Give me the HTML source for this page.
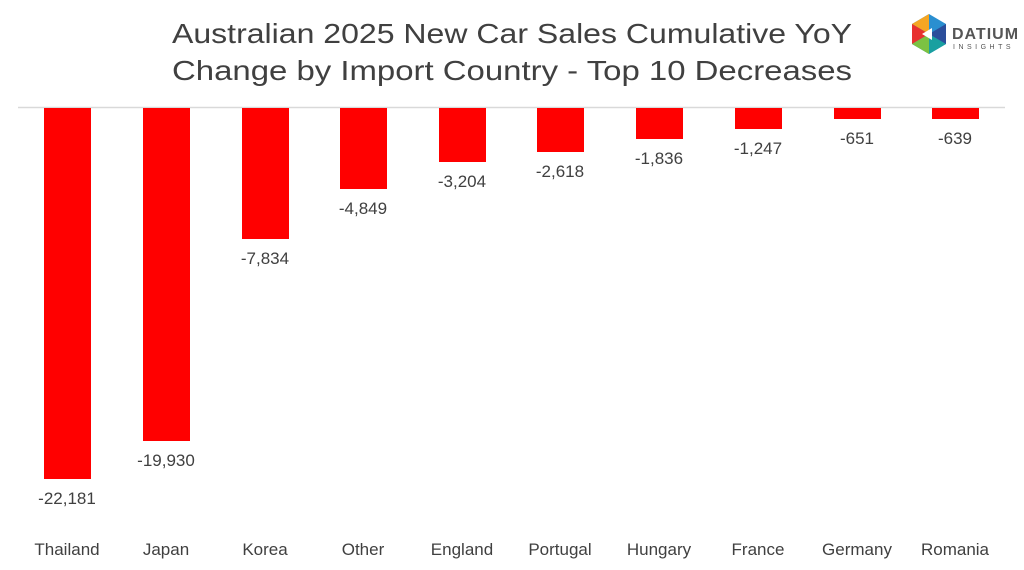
<!DOCTYPE html>
<html><head><style>
body{margin:0;background:#fff;}
svg{display:block;font-family:"Liberation Sans",sans-serif;}
</style></head><body>
<svg width="1024" height="570" viewBox="0 0 1024 570">
<text x="512" y="43" text-anchor="middle" font-size="28" fill="#404040" textLength="680" lengthAdjust="spacingAndGlyphs">Australian 2025 New Car Sales Cumulative YoY</text>
<text x="512" y="80" text-anchor="middle" font-size="28" fill="#404040" textLength="680" lengthAdjust="spacingAndGlyphs">Change by Import Country - Top 10 Decreases</text>
<!-- logo -->
<g transform="translate(912,14)">
<polygon points="17,0 34,10 34,30 17,40 0,30 0,10" fill="#2a8fd0"/>
<polygon points="0,10 17,0 17,20" fill="#f5a623"/>
<polygon points="0,10 17,20 0,30" fill="#e8312f"/>
<polygon points="0,30 17,20 17,40" fill="#7cc242"/>
<polygon points="17,40 17,20 34,30" fill="#1aa0a0"/>
<polygon points="34,30 17,20 34,10" fill="#2b4e9b"/>
<polygon points="10,20 20,14 20,26" fill="#fff"/>
<text x="40" y="25" font-size="16" font-weight="bold" fill="#555" letter-spacing="1">DATIUM</text>
<text x="41" y="35" font-size="7" fill="#555" letter-spacing="3.5">INSIGHTS</text>
</g>
<line x1="18" y1="107.5" x2="1005" y2="107.5" stroke="#d9d9d9" stroke-width="1.5"/>
<g fill="#ff0000">
<rect x="44" y="108" width="47" height="371"/>
<rect x="143" y="108" width="47" height="333"/>
<rect x="242" y="108" width="47" height="131"/>
<rect x="340" y="108" width="47" height="81"/>
<rect x="439" y="108" width="47" height="54"/>
<rect x="537" y="108" width="47" height="44"/>
<rect x="636" y="108" width="47" height="31"/>
<rect x="735" y="108" width="47" height="21"/>
<rect x="834" y="108" width="47" height="11"/>
<rect x="932" y="108" width="47" height="11"/>
</g>
<g font-size="17" fill="#404040" text-anchor="middle">
<text x="67" y="504">-22,181</text>
<text x="166" y="466">-19,930</text>
<text x="265" y="264">-7,834</text>
<text x="363" y="214">-4,849</text>
<text x="462" y="187">-3,204</text>
<text x="560" y="177">-2,618</text>
<text x="659" y="164">-1,836</text>
<text x="758" y="154">-1,247</text>
<text x="857" y="144">-651</text>
<text x="955" y="144">-639</text>
</g>
<g font-size="17" fill="#404040" text-anchor="middle">
<text x="67" y="555">Thailand</text>
<text x="166" y="555">Japan</text>
<text x="265" y="555">Korea</text>
<text x="363" y="555">Other</text>
<text x="462" y="555">England</text>
<text x="560" y="555">Portugal</text>
<text x="659" y="555">Hungary</text>
<text x="758" y="555">France</text>
<text x="857" y="555">Germany</text>
<text x="955" y="555">Romania</text>
</g>
</svg>
</body></html>
